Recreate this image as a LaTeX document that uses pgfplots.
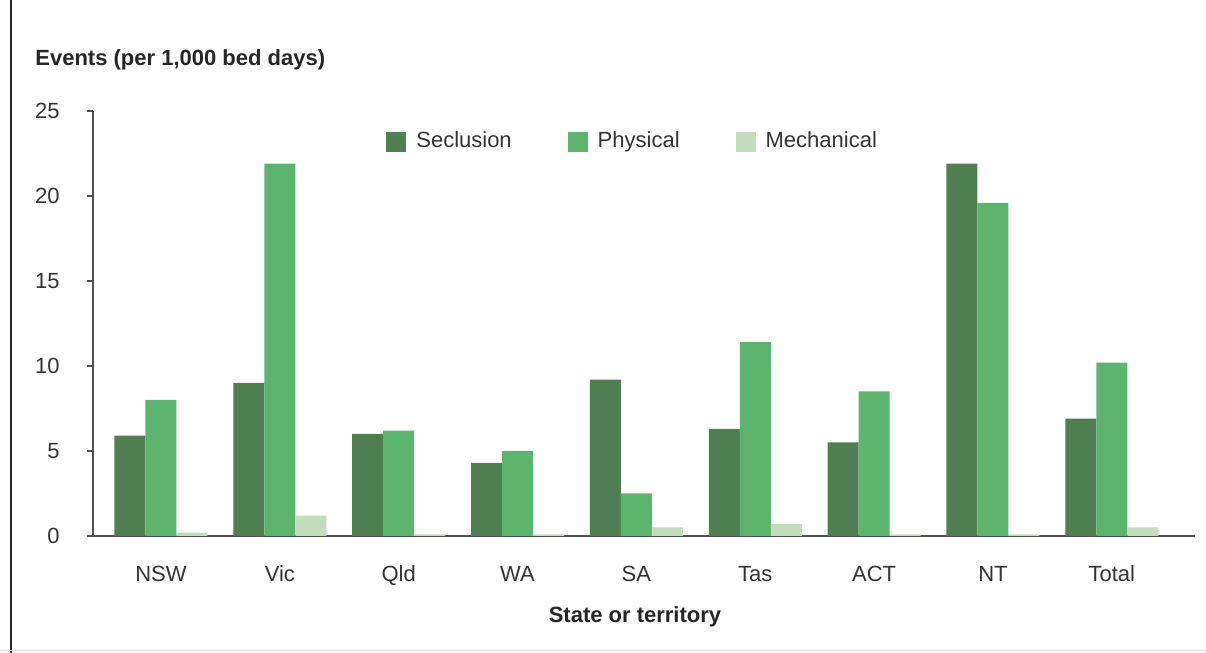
\documentclass[border=0pt]{standalone}
\usepackage{pgfplots}
\pgfplotsset{compat=1.18}
\usepackage{fontspec}
\setmainfont{Liberation Sans}
\definecolor{seclusion}{HTML}{4F7F51}
\definecolor{physical}{HTML}{5DB46E}
\definecolor{mechanical}{HTML}{C3DDBC}
\definecolor{axisgray}{HTML}{505050}
\definecolor{textgray}{HTML}{333333}
\definecolor{titlegray}{HTML}{262626}

% Restraint events per 1,000 bed days, by state or territory
% x: 0 NSW, 1 Vic, 2 Qld, 3 WA, 4 SA, 5 Tas, 6 ACT, 7 NT, 8 Total
\pgfplotstableread{
x  seclusion physical mechanical
0  5.9   8.0   0.2
1  9.0   21.9  1.2
2  6.0   6.2   0.1
3  4.3   5.0   0.1
4  9.2   2.5   0.5
5  6.3   11.4  0.7
6  5.5   8.5   0.1
7  21.9  19.6  0.1
8  6.9   10.2  0.5
}\restraintdata

\begin{document}
\fontsize{11}{13}\selectfont
\begin{tikzpicture}
\useasboundingbox (0,0) rectangle (603pt,326.5pt);
% frame edges
\draw[line width=1pt, color=black!85] (5.5pt,0) -- (5.5pt,326.5pt);
\draw[line width=0.5pt, color=black!12] (0,1pt) -- (603pt,1pt);
\begin{axis}[
  at={(46.5pt,58.5pt)}, anchor=south west,
  scale only axis, width=551pt, height=212.5pt,
  xmin=-0.572, xmax=8.70, ymin=0, ymax=25,
  axis x line=bottom, axis y line=left,
  axis line style={-, line width=1pt, color=axisgray},
  ybar=0pt, bar width=15.5pt,
  xtick=data,
  xticklabels={NSW,Vic,Qld,WA,SA,Tas,ACT,NT,Total},
  xtick style={draw=none},
  ytick={0,5,...,25},
  ytick style={line width=1pt, color=axisgray},
  tick align=outside, major tick length=3pt,
  /pgf/number format/assume math mode=true,
  ticklabel style={font=\fontsize{11}{13}\selectfont, text=textgray},
  yticklabel style={inner sep=0pt, anchor=east, xshift=-13.5pt},
  xticklabel style={inner sep=0pt, anchor=base, yshift=-20pt},
  legend style={at={(axis cs:3.96,23.2)}, anchor=center, draw=none, fill=none,
    legend columns=3, font=\fontsize{11}{13}\selectfont, text=textgray,
    inner sep=0pt, nodes={inner sep=0pt},
    /tikz/every odd column/.append style={column sep=5pt},
    /tikz/every even column/.append style={column sep=28pt}},
  legend cell align=left,
  legend image code/.code={\fill[#1] (0pt,-5pt) rectangle (10pt,5pt);},
  clip=false,
]
\addplot[fill=seclusion, draw=none] table[x=x, y=seclusion] {\restraintdata};
\addplot[fill=physical, draw=none] table[x=x, y=physical] {\restraintdata};
\addplot[fill=mechanical, draw=none] table[x=x, y=mechanical] {\restraintdata};
\legend{Seclusion, Physical, Mechanical}
\end{axis}
\node[anchor=west, inner sep=0pt, text=titlegray, font=\bfseries\fontsize{11}{13}\selectfont] at (17.5pt,296.5pt) {Events (per 1,000 bed days)};
\node[anchor=center, inner sep=0pt, text=titlegray, font=\bfseries\fontsize{11}{13}\selectfont] at (317.5pt,18pt) {State or territory};
\end{tikzpicture}
\end{document}
